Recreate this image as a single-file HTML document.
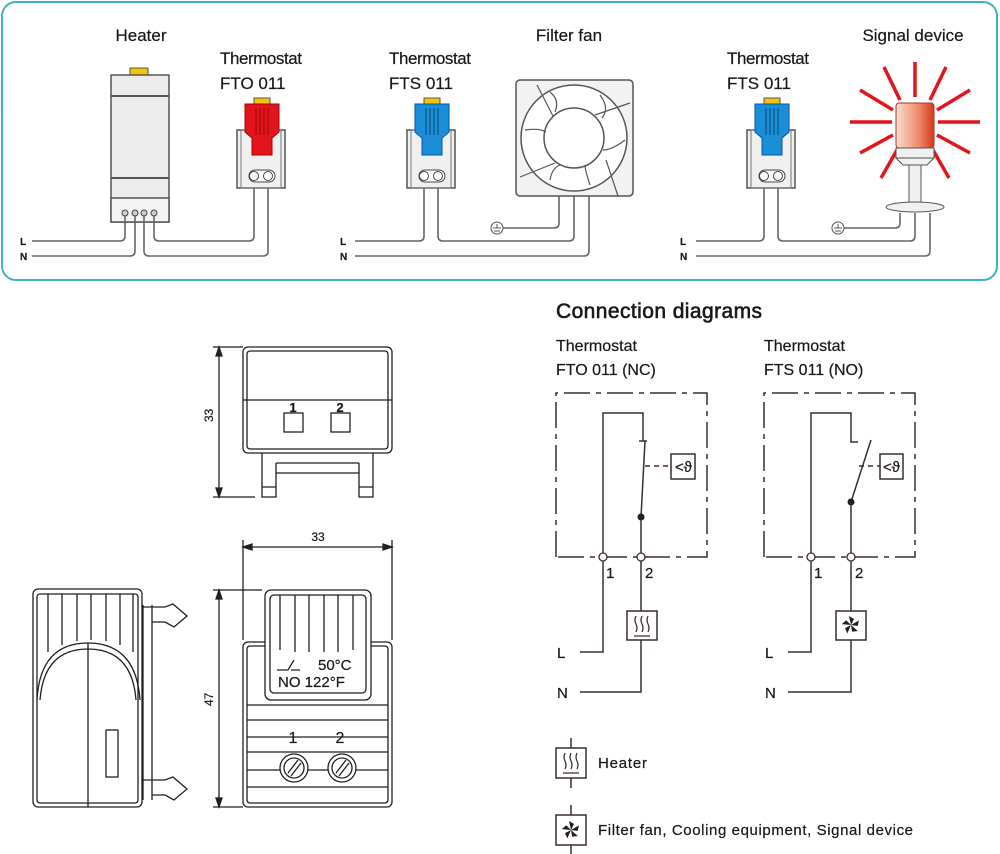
<!DOCTYPE html>
<html><head><meta charset="utf-8"><style>
html,body{margin:0;padding:0;background:#fff}
svg{display:block}
text{font-family:"Liberation Sans",sans-serif;fill:#1a1718;stroke:#1a1718;stroke-width:0.2}
</style></head><body>
<svg width="1000" height="854" viewBox="0 0 1000 854" xmlns="http://www.w3.org/2000/svg">
<defs>
<linearGradient id="gr" x1="0" x2="1"><stop offset="0" stop-color="#f8ddd0"/><stop offset="0.6" stop-color="#ee8a6a"/><stop offset="1" stop-color="#d6381c"/></linearGradient>
</defs>
<rect x="2" y="2" width="995" height="278" rx="14" fill="#fff" stroke="#3fb3bd" stroke-width="2"/>
<g font-size="17">
<text x="141" y="41" text-anchor="middle">Heater</text>
<text x="220" y="64" textLength="82">Thermostat</text>
<text x="220" y="89">FTO 011</text>
<text x="389" y="64" textLength="82">Thermostat</text>
<text x="389" y="89">FTS 011</text>
<text x="569" y="41" text-anchor="middle">Filter fan</text>
<text x="727" y="64" textLength="82">Thermostat</text>
<text x="727" y="89">FTS 011</text>
<text x="913" y="41" text-anchor="middle">Signal device</text>
</g>
<g font-size="10" font-weight="bold">
<text x="20" y="245">L</text><text x="20" y="260">N</text>
<text x="340" y="245">L</text><text x="340" y="260">N</text>
<text x="680" y="245">L</text><text x="680" y="260">N</text>
</g>
<rect x="130" y="68" width="18" height="8" fill="#f5c400" stroke="#555"/>
<rect x="111" y="75" width="58" height="147" fill="#ececec" stroke="#555" stroke-width="1.5"/>
<line x1="111" y1="96" x2="169" y2="96" stroke="#555" stroke-width="2"/>
<line x1="111" y1="178" x2="169" y2="178" stroke="#555" stroke-width="2"/>
<rect x="111" y="198" width="58" height="24" fill="#f4f4f4" stroke="#555" stroke-width="1.5"/>
<g fill="#ccc" stroke="#444"><circle cx="125" cy="213" r="3"/><circle cx="135" cy="213" r="3"/><circle cx="144" cy="213" r="3"/><circle cx="154" cy="213" r="3"/></g>
<g fill="none" stroke="#666" stroke-width="1.6">
<path d="M32 241H120q5 0 5-5V216"/>
<path d="M32 256H130q5 0 5-5V216"/>
<path d="M154 216V236q0 5 5 5H249q5 0 5-5V180"/>
<path d="M144 216V251q0 5 5 5H263q5 0 5-5V180"/>
<path d="M355 241H419q5 0 5-5V180"/>
<path d="M438 180V236q0 5 5 5H569q5 0 5-5V196"/>
<path d="M355 256H584q5 0 5-5V196"/>
<path d="M503 228H554q5 0 5-5V196"/>
<path d="M696 241H759q5 0 5-5V180"/>
<path d="M778 180V236q0 5 5 5H910q5 0 5-5V213"/>
<path d="M696 256H925q5 0 5-5V213"/>
<path d="M844 228H895q5 0 5-5V213"/>
</g>
<g>
<rect x="237" y="130" width="48" height="58" fill="#f0f0f0" stroke="#555" stroke-width="1.5"/>
<rect x="241" y="130" width="40" height="58" fill="none" stroke="#777"/>
<rect x="254" y="98" width="16" height="7" fill="#f5c400" stroke="#555"/>
<path d="M245 104H279V132L272 138V155H252V138L245 132Z" fill="#e3141b" stroke="#a00"/>
<g stroke="#800" stroke-width="0.8"><line x1="256" y1="108" x2="256" y2="135"/><line x1="260" y1="108" x2="260" y2="135"/><line x1="264" y1="108" x2="264" y2="135"/><line x1="268" y1="108" x2="268" y2="135"/></g>
<rect x="249" y="170" width="26" height="12" rx="6" fill="#fff" stroke="#444"/>
<circle cx="254" cy="176" r="4.5" fill="#fff" stroke="#444"/><circle cx="268" cy="176" r="4.5" fill="#fff" stroke="#444"/>
</g>
<g transform="translate(170 0)">
<rect x="237" y="130" width="48" height="58" fill="#f0f0f0" stroke="#555" stroke-width="1.5"/>
<rect x="241" y="130" width="40" height="58" fill="none" stroke="#777"/>
<rect x="254" y="98" width="16" height="7" fill="#f5c400" stroke="#555"/>
<path d="M245 104H279V132L272 138V155H252V138L245 132Z" fill="#1a8fd8" stroke="#05a"/>
<g stroke="#035" stroke-width="0.8"><line x1="256" y1="108" x2="256" y2="135"/><line x1="260" y1="108" x2="260" y2="135"/><line x1="264" y1="108" x2="264" y2="135"/><line x1="268" y1="108" x2="268" y2="135"/></g>
<rect x="249" y="170" width="26" height="12" rx="6" fill="#fff" stroke="#444"/>
<circle cx="254" cy="176" r="4.5" fill="#fff" stroke="#444"/><circle cx="268" cy="176" r="4.5" fill="#fff" stroke="#444"/>
</g>
<g transform="translate(510 0)">
<rect x="237" y="130" width="48" height="58" fill="#f0f0f0" stroke="#555" stroke-width="1.5"/>
<rect x="241" y="130" width="40" height="58" fill="none" stroke="#777"/>
<rect x="254" y="98" width="16" height="7" fill="#f5c400" stroke="#555"/>
<path d="M245 104H279V132L272 138V155H252V138L245 132Z" fill="#1a8fd8" stroke="#05a"/>
<g stroke="#035" stroke-width="0.8"><line x1="256" y1="108" x2="256" y2="135"/><line x1="260" y1="108" x2="260" y2="135"/><line x1="264" y1="108" x2="264" y2="135"/><line x1="268" y1="108" x2="268" y2="135"/></g>
<rect x="249" y="170" width="26" height="12" rx="6" fill="#fff" stroke="#444"/>
<circle cx="254" cy="176" r="4.5" fill="#fff" stroke="#444"/><circle cx="268" cy="176" r="4.5" fill="#fff" stroke="#444"/>
</g>
<rect x="516" y="80" width="117" height="116" rx="4" fill="#f2f2f2" stroke="#555" stroke-width="1.5"/>
<circle cx="574" cy="138" r="53" fill="#fff" stroke="#555" stroke-width="1.5"/>
<circle cx="574" cy="138" r="30" fill="#fff" stroke="#555" stroke-width="1.5"/>
<g stroke="#555" stroke-width="1.2" fill="none">
<path d="M537 85L553 116M630 103L595 115M618 196L606 160M520 177L555 163"/>
<path d="M550 92Q560 100 555 112M600 95Q610 108 602 118M625 140Q612 150 603 150M590 185Q585 170 585 165M550 180Q552 168 560 165M525 130Q540 128 546 132"/>
</g>
<circle cx="497" cy="228" r="6" fill="#fff" stroke="#555"/><path d="M493 228h8M494 231h6M497 224v4" stroke="#555"/>
<circle cx="838" cy="228" r="6" fill="#fff" stroke="#555"/><path d="M834 228h8M835 231h6M838 224v4" stroke="#555"/>
<g stroke="#e3141b" stroke-width="3.5">
<line x1="915" y1="62" x2="915" y2="97"/><line x1="884" y1="67" x2="900" y2="100"/><line x1="946" y1="67" x2="930" y2="100"/>
<line x1="860" y1="90" x2="893" y2="110"/><line x1="970" y1="90" x2="937" y2="110"/>
<line x1="850" y1="122" x2="892" y2="122"/><line x1="980" y1="122" x2="938" y2="122"/>
<line x1="860" y1="153" x2="893" y2="135"/><line x1="970" y1="153" x2="937" y2="135"/>
<line x1="881" y1="178" x2="897" y2="150"/><line x1="949" y1="178" x2="933" y2="150"/>
</g>
<rect x="896" y="103" width="38" height="45" rx="3" fill="url(#gr)" stroke="#a33"/>
<rect x="896" y="148" width="38" height="10" fill="#f0f0f0" stroke="#555"/>
<path d="M896 158L903 165H927L934 158Z" fill="#f0f0f0" stroke="#555"/>
<rect x="909" y="165" width="12" height="38" fill="#f0f0f0" stroke="#555"/>
<ellipse cx="915" cy="207" rx="29" ry="5" fill="#f0f0f0" stroke="#555"/>

<text x="556" y="318" font-size="21" textLength="206" style="stroke-width:0.6">Connection diagrams</text>
<g font-size="16">
<text x="556" y="351">Thermostat</text><text x="556" y="375">FTO 011 (NC)</text>
<text x="764" y="351">Thermostat</text><text x="764" y="375">FTS 011 (NO)</text>
</g>
<g fill="none" stroke="#3a2f2a" stroke-width="1.5">
<path d="M556 557V393H707V557H556" stroke-dasharray="26 6 5 6"/>
<path d="M764 557V393H915V557H764" stroke-dasharray="26 6 5 6"/>
<path d="M603 557V413H643V441"/><path d="M639 441h8"/><path d="M645 441L641 517V557"/>
<path d="M645 466H671" stroke-dasharray="5 4"/>
<rect x="671" y="454" width="24" height="25"/>
<path d="M603 561V652H580"/><path d="M641 561V611M641 640V692H580"/>
<rect x="627" y="611" width="30" height="29"/>
<path d="M811 557V413H851V442H858"/><path d="M871 440L851 502V557"/>
<path d="M859 466H880" stroke-dasharray="5 4"/>
<rect x="880" y="454" width="23" height="25"/>
<path d="M811 561V652H788"/><path d="M851 561V611M851 640V692H788"/>
<rect x="836" y="611" width="30" height="29"/>
<path d="M571 738V748M571 778V788"/><rect x="556" y="748" width="30" height="30"/>
<path d="M571 805V815M571 845V854"/><rect x="556" y="815" width="30" height="30"/>
</g>
<g fill="#fff" stroke="#3a2f2a" stroke-width="1.3">
<circle cx="603" cy="557" r="4"/><circle cx="641" cy="557" r="4"/><circle cx="811" cy="557" r="4"/><circle cx="851" cy="557" r="4"/>
</g>
<circle cx="641" cy="517" r="3.5" fill="#231f20"/><circle cx="851" cy="502" r="3.5" fill="#231f20"/>
<g font-size="15">
<text x="675" y="472">&lt;ϑ</text><text x="883" y="472">&lt;ϑ</text>
<text x="606" y="578">1</text><text x="645" y="578">2</text><text x="814" y="578">1</text><text x="855" y="578">2</text>
<text x="557" y="658">L</text><text x="557" y="698">N</text><text x="765" y="658">L</text><text x="765" y="698">N</text>
<text x="598" y="768" textLength="49">Heater</text>
<text x="598" y="835" textLength="315">Filter fan, Cooling equipment, Signal device</text>
</g>
<g stroke="#3a2f2a" stroke-width="1.3" fill="none">
<path d="M636 616q-2 4 0 8q2 4 0 8M642 616q-2 4 0 8q2 4 0 8M648 616q-2 4 0 8q2 4 0 8M634 636h16"/>
<path d="M565 753q-2 4 0 8q2 4 0 8M571 753q-2 4 0 8q2 4 0 8M577 753q-2 4 0 8q2 4 0 8M563 773h16"/>
</g>
<g fill="#231f20">
<g transform="translate(851 625)"><path id="fb" d="M0 0L-2 -9L3 -6Z"/><use href="#fb" transform="rotate(72)"/><use href="#fb" transform="rotate(144)"/><use href="#fb" transform="rotate(216)"/><use href="#fb" transform="rotate(288)"/></g>
<g transform="translate(571 830)"><use href="#fb"/><use href="#fb" transform="rotate(72)"/><use href="#fb" transform="rotate(144)"/><use href="#fb" transform="rotate(216)"/><use href="#fb" transform="rotate(288)"/></g>
</g>

<g fill="none" stroke="#231f20" stroke-width="1.3">
<rect x="243" y="347" width="149" height="106" rx="5"/>
<rect x="247" y="351" width="141" height="98" rx="3"/>
<line x1="243" y1="400" x2="392" y2="400"/>
<rect x="284" y="413" width="19" height="19"/><rect x="331" y="413" width="19" height="19"/>
<path d="M262 453V497H276V473H359V497H373V453"/><path d="M276 463H359M276 473V463M359 473V463M262 487H276M359 487H373"/>
<path d="M213 347H243M213 497H255M219 350V494"/>
<path d="M219 347l-3 9h6z M219 497l-3 -9h6z" fill="#231f20"/>
<rect x="243" y="642" width="149" height="165" rx="5"/>
<rect x="247" y="646" width="141" height="157" rx="3"/>
<rect x="265" y="590" width="106" height="110" rx="6" fill="#fff"/>
<rect x="270" y="595" width="96" height="98" rx="4"/>
<path d="M280 595V650M295 595V652M309 595V652M324 595V652M338 595V652M353 595V650"/>
<path d="M247 705H388M247 720H388M247 737H388M247 752H388M247 770H388M247 787H388"/>
<circle cx="294" cy="768" r="14" fill="#fff"/><circle cx="294" cy="768" r="10"/><path d="M288 773L298 760M291 776L301 763"/>
<circle cx="342" cy="768" r="14" fill="#fff"/><circle cx="342" cy="768" r="10"/><path d="M336 773L346 760M339 776L349 763"/>
<path d="M243 540V640M392 540V640M246 547H389"/>
<path d="M243 547l9 -3v6z M392 547l-9 -3v6z" fill="#231f20"/>
<path d="M213 590H262M213 807H243M219 593V804"/>
<path d="M219 590l-3 9h6z M219 807l-3 -9h6z" fill="#231f20"/>
<rect x="33" y="589" width="109" height="218" rx="5"/>
<rect x="37" y="594" width="101" height="209" rx="3"/>
<path d="M48 594V652M62 594V645M77 594V641M91 594V640M106 594V641M120 594V645M133 594V652"/>
<path d="M37 700Q40 643 88 643Q136 643 140 700"/>
<path d="M40 700Q44 649 88 649Q132 649 136 700"/>
<line x1="88" y1="643" x2="88" y2="807"/>
<rect x="106" y="730" width="12" height="47"/>
<path d="M143 605V800M152 605V800"/>
<path d="M143 607H165L173 604L187 616L174 627L165 622H152"/>
<path d="M143 780H165L173 777L187 789L174 800L165 795H152"/>
</g>
<g font-size="13">
<text x="293" y="412" font-weight="bold" text-anchor="middle">1</text>
<text x="340" y="412" font-weight="bold" text-anchor="middle">2</text>
<text x="293" y="743" font-size="16" text-anchor="middle">1</text>
<text x="340" y="743" font-size="16" text-anchor="middle">2</text>
<text x="318" y="670" font-size="15">50°C</text>
<text x="278" y="687" font-size="15">NO 122°F</text>
<text x="318" y="541" font-size="12" text-anchor="middle">33</text>
<text transform="translate(213 422) rotate(-90)" font-size="12">33</text>
<text transform="translate(213 706) rotate(-90)" font-size="12">47</text>
</g>
<path d="M277 670H288L294 660M291 670H300" fill="none" stroke="#231f20" stroke-width="1.3"/>
</svg>
</body></html>
